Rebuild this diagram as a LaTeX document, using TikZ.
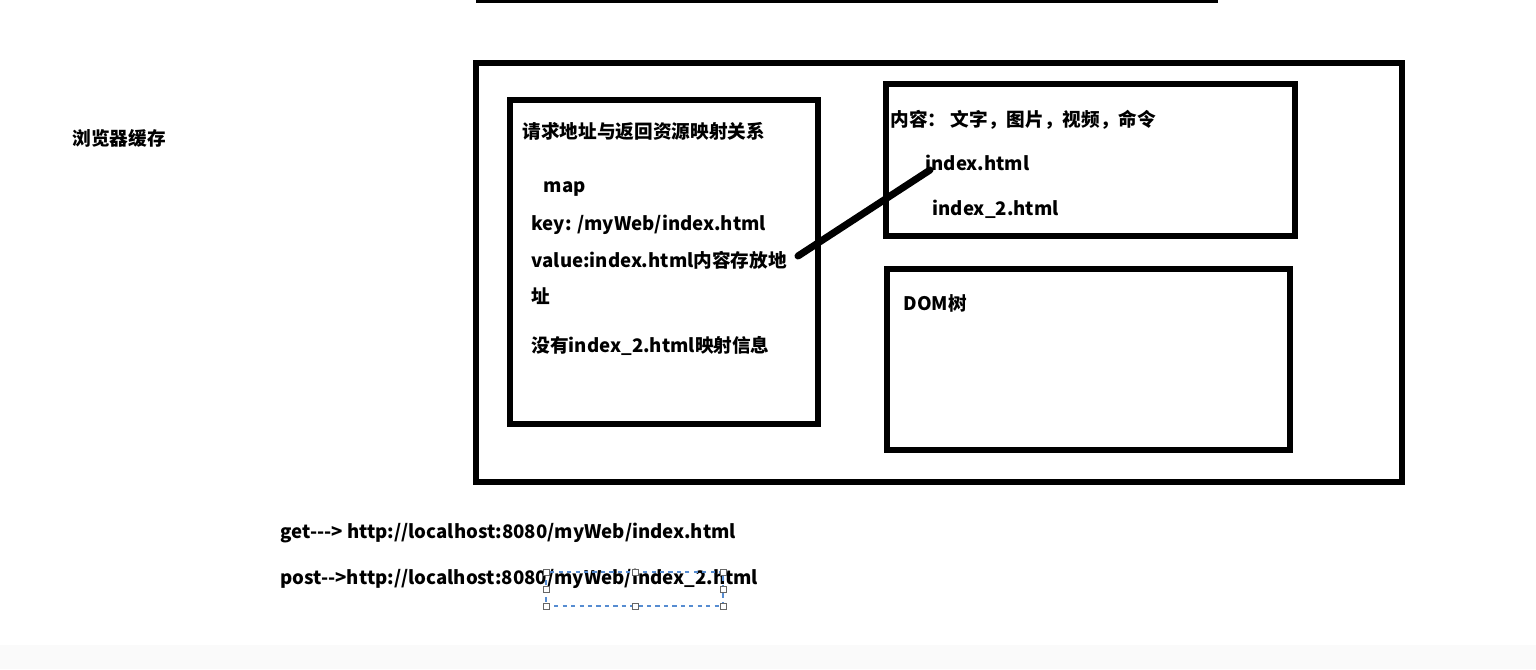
\documentclass[tikz,border=0pt]{standalone}
\usepackage{fontspec}
\setmainfont{Noto Sans CJK SC}
\usetikzlibrary{positioning}

\tikzset{
  frame/.style={draw, line width=1.45pt},
  txt/.style={anchor=west, inner sep=0pt, font=\bfseries\fontsize{5.3}{6}\selectfont},
  link/.style={line width=2pt, line cap=round},
  sel/.style={draw=cyan!50!blue!70, dashed, dash pattern=on 1.2pt off 1.2pt, line width=0.35pt},
  handle/.style={draw=gray!80!black, fill=white, minimum size=0.06cm, inner sep=0pt, line width=0.25pt}
}

\begin{document}
\begin{tikzpicture}[x=0.01cm,y=-0.01cm]
\useasboundingbox (0,0) rectangle (1536,669);
\fill[white] (0,0) rectangle (1536,669);
\fill[black!2] (0,645) rectangle (1536,669);

% top edge of the box above
\draw[line width=1.6pt] (476,0) -- (1218,0);

% cache frame
\draw[frame] (476,63) rectangle (1402,482);
\draw[frame] (510,100) rectangle (818,424);
\draw[frame] (886,84) rectangle (1295,236);
\draw[frame] (887,269) rectangle (1290,450);

\node[txt] (cache) at (72,138) {浏览器缓存};

% mapping table
\node[txt] (maptitle) at (522,131) {请求地址与返回资源映射关系};
\node[txt] (map) at (543,189) {map};
\node[txt] (key) at (531,225) {key: /myWeb/index.html};
\node[txt] (value) at (531,260) {value:index.html内容存放地};
\node[txt] (value2) at (531,296) {址};
\node[txt] (nomap) at (531,346) {没有index\_2.html映射信息};

% content
\node[txt] (content) at (890,120) {内容： 文字，图片，视频，命令};
\node[txt] (idx) at (925,163) {index.html};
\node[txt] (idx2) at (932,209) {index\_2.html};
\node[txt] (dom) at (903,303) {DOM树};

\coordinate (from) at (798,256);
\coordinate (to) at (930,170);
\draw[link] (from) -- (to);

% requests
\node[txt] (get) at (280,533) {get-{}-{}-> http://localhost:8080/myWeb/index.html};
\node[txt] (post) at (280,579) {post-{}->http://localhost:8080/myWeb/index\_2.html};

% selection box
\draw[sel] (546,572) rectangle (723,606);
\foreach \x/\y [count=\i] in {546/572,635/572,723/572,546/589,723/589,546/606,635/606,723/606}
  \node[handle] (h\i) at (\x,\y) {};

\end{tikzpicture}
\end{document}
